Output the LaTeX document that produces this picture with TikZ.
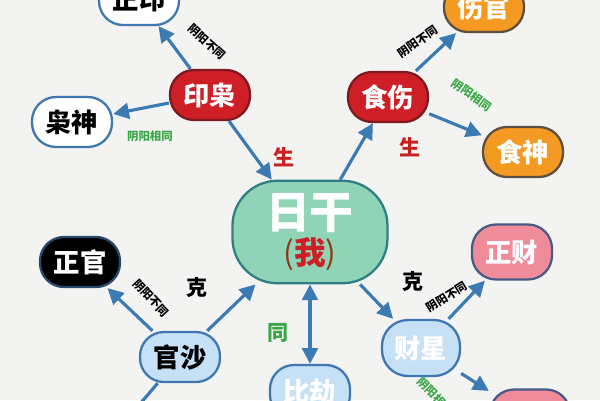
\documentclass[tikz,border=0pt]{standalone}
\usepackage{fontspec}
\newfontfamily\cjk{Noto Sans CJK SC}
\usepackage{tikz}
\usetikzlibrary{arrows.meta}
\definecolor{paper}{HTML}{F3F3F2}
\definecolor{arrowblue}{HTML}{3C7AB4}
\definecolor{rigangreen}{HTML}{8FD4B6}
\definecolor{riganline}{HTML}{2F7E86}
\definecolor{sealred}{HTML}{CF1F26}
\definecolor{sealline}{HTML}{7E1A1F}
\definecolor{orangefill}{HTML}{F49A22}
\definecolor{orangeline}{HTML}{5E5040}
\definecolor{bluefill}{HTML}{C6E1F6}
\definecolor{blueline}{HTML}{3F78B0}
\definecolor{pinkfill}{HTML}{F08C9A}
\definecolor{pinkline}{HTML}{4A5A86}
\definecolor{tagred}{HTML}{C8201F}
\definecolor{taggreen}{HTML}{3AA647}
\definecolor{wobrown}{HTML}{8A3A1A}

\begin{document}
\begin{tikzpicture}[x=0.02cm,y=-0.02cm]
  \tikzstyle{pill}=[rectangle, rounded corners=0.48cm, minimum width=1.6cm,
minimum height=1cm, line width=1.3pt, font=\cjk\bfseries\fontsize{15}{15}\selectfont]
  \tikzstyle{link}=[draw=arrowblue, line width=1.8pt, -{Triangle[length=9pt,width=9pt]}]
  \tikzstyle{tip}=[font=\cjk\bfseries\fontsize{6.5}{6.5}\selectfont, inner sep=0pt]
  \tikzstyle{verb}=[font=\cjk\bfseries\fontsize{12}{12}\selectfont, inner sep=0pt]

  \fill[paper] (0,0) rectangle (600,400);
  \useasboundingbox (0,0) rectangle (600,400);

  % day master
  \node[rectangle, rounded corners=0.9cm, minimum width=3.1cm, minimum height=2.05cm,
draw=riganline, line width=1.3pt, fill=rigangreen, align=center, inner sep=0pt]
    (rigan) at (310,232) {{\cjk\bfseries\fontsize{25}{27}\selectfont\color{white}日干}\\[2pt]
{\cjk\fontsize{18}{20}\selectfont\color{wobrown}(\textcolor{sealred}{\bfseries 我})}};

  \node[pill, fill=sealred, draw=sealline, text=white] (yinxiao) at (210,95) {印枭};
  \node[pill, fill=white, draw=blueline, text=black] (zhengyin) at (139,0) {正印};
  \node[pill, fill=white, draw=blueline, text=black] (xiaoshen) at (72,122) {枭神};

  \node[pill, fill=sealred, draw=sealline, text=white] (shishang) at (388,97) {食伤};
  \node[pill, fill=orangefill, draw=orangeline, text=white] (shangguan) at (484,7) {伤官};
  \node[pill, fill=orangefill, draw=orangeline, text=white] (shishen) at (523,152) {食神};

  \node[pill, fill=black, draw=blueline!60!black, text=white] (zhengguan) at (80,262) {正官};
  \node[pill, fill=bluefill, draw=blueline, text=black] (guansha) at (180,357) {官沙};
  \coordinate (guan_down) at (122,425);

  \node[pill, fill=bluefill, draw=blueline, text=white, minimum height=1.08cm] (bijie) at (310,392) {比劫};

  \node[pill, fill=bluefill, draw=blueline, text=white, minimum width=1.56cm, minimum height=1.12cm,
rounded corners=0.52cm] (caixing) at (421,348) {财星};
  \node[pill, fill=pinkfill, draw=pinkline, text=white, minimum height=1.1cm] (zhengcai) at (512,252) {正财};
  \node[pill, fill=pinkfill, draw=pinkline, text=white, minimum height=1.1cm] (piancai) at (530,417) {偏财};

  \draw[link] (yinxiao) -- (zhengyin);
  \draw[link] (yinxiao) -- (xiaoshen);
  \draw[link] (yinxiao) -- (rigan);
  \draw[link] (rigan) -- (shishang);
  \draw[link] (shishang) -- (shangguan);
  \draw[link] (shishang) -- (shishen);
  \draw[link] (guansha) -- (zhengguan);
  \draw[link] (guansha) -- (rigan);
  \draw[draw=arrowblue, line width=1.8pt] (guansha) -- (guan_down);
  \draw[link, {Triangle[length=9pt,width=9pt]}-{Triangle[length=9pt,width=9pt]}] (rigan) -- (bijie);
  \draw[link] (rigan) -- (caixing);
  \draw[link] (caixing) -- (zhengcai);
  \draw[link] (caixing) -- (piancai);

  % labels on the links
  \node[tip, rotate=-42] (t_yin1) at (207,42) {阴阳不同};
  \node[tip, text=taggreen] (t_yin2) at (150,136) {阴阳相同};
  \node[tip, rotate=35] (t_shi1) at (418,42) {阴阳不同};
  \node[tip, text=taggreen, rotate=-35] (t_shi2) at (472,95) {阴阳相同};
  \node[tip, rotate=-47] (t_guan) at (151,298) {阴阳不同};
  \node[tip, rotate=32] (t_cai1) at (447,297) {阴阳不同};
  \node[tip, text=taggreen, rotate=-45] (t_cai2) at (436,396) {阴阳相同};

  \node[verb, text=tagred] (sheng_1) at (284,157) {生};
  \node[verb, text=tagred] (sheng_2) at (410,147) {生};
  \node[verb] (ke_1) at (197,287) {克};
  \node[verb] (ke_2) at (413,281) {克};
  \node[verb, text=taggreen] (tong) at (278,333) {同};
\end{tikzpicture}
\end{document}
